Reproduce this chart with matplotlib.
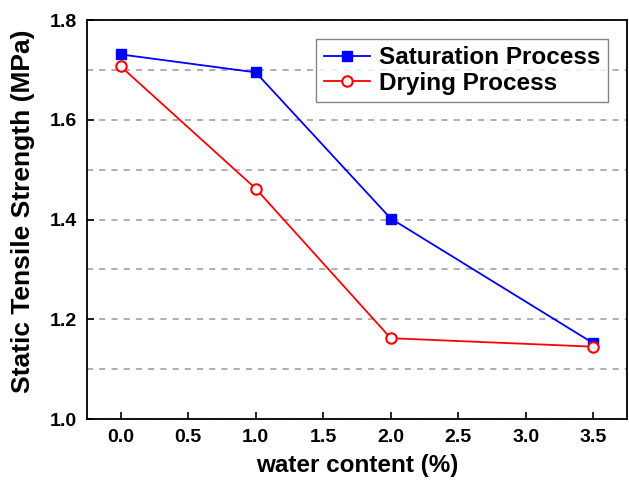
import matplotlib
matplotlib.use("Agg")
import matplotlib.pyplot as plt
from matplotlib.ticker import MultipleLocator, FormatStrFormatter

plt.rcParams["font.family"] = ["Liberation Sans", "DejaVu Sans"]
plt.rcParams["font.weight"] = "bold"

# Tensile strength against water content
water = [0.0, 1.0, 2.0, 3.5]
saturation = [1.731, 1.695, 1.402, 1.152]
drying = [1.707, 1.462, 1.162, 1.145]

fig = plt.figure(figsize=(6.29, 4.82), dpi=100)
ax = fig.add_axes([0.1383, 0.1307, 0.8585, 0.8278])

ax.plot(water, saturation, color="blue", lw=1.3, marker="s", ms=7.5,
        label="Saturation Process", zorder=3)
ax.plot(water, drying, color="red", lw=1.3, marker="o", ms=7.5,
        mfc="white", mec="red", mew=1.5, label="Drying Process", zorder=4)

ax.set_xlim(-0.25, 3.75)
ax.set_ylim(1.0, 1.8)
ax.xaxis.set_major_locator(MultipleLocator(0.5))
ax.yaxis.set_major_locator(MultipleLocator(0.2))
ax.yaxis.set_minor_locator(MultipleLocator(0.1))
ax.xaxis.set_major_formatter(FormatStrFormatter("%.1f"))
ax.yaxis.set_major_formatter(FormatStrFormatter("%.1f"))

ax.tick_params(direction="in", length=5, width=1.2, labelsize=14, pad=7)
ax.tick_params(which="minor", length=0)
for s in ax.spines.values():
    s.set_linewidth(1.3)

# dashed horizontal guides at every 0.1 between the limits
ax.yaxis.grid(True, which="both", ls=(0, (4, 4)), color="#999999", lw=1.1)
ax.set_axisbelow(True)

ax.set_xlabel("water content (%)", fontsize=17.5, fontweight="bold", labelpad=6)
ax.set_ylabel("Static Tensile Strength (MPa)", fontsize=19, fontweight="bold")
ax.yaxis.set_label_coords(-0.096, 0.52)

leg = ax.legend(loc="upper right", bbox_to_anchor=(0.965, 0.952),
                fontsize=17.5, frameon=True, fancybox=False, edgecolor="#666666",
                handlelength=1.9, borderpad=0.3, labelspacing=0.1,
                handletextpad=0.4, borderaxespad=0)
leg.get_frame().set_linewidth(1.0)
for t in ax.get_xticklabels() + ax.get_yticklabels():
    t.set_fontweight("bold")

fig.savefig("out.png", dpi=100)
